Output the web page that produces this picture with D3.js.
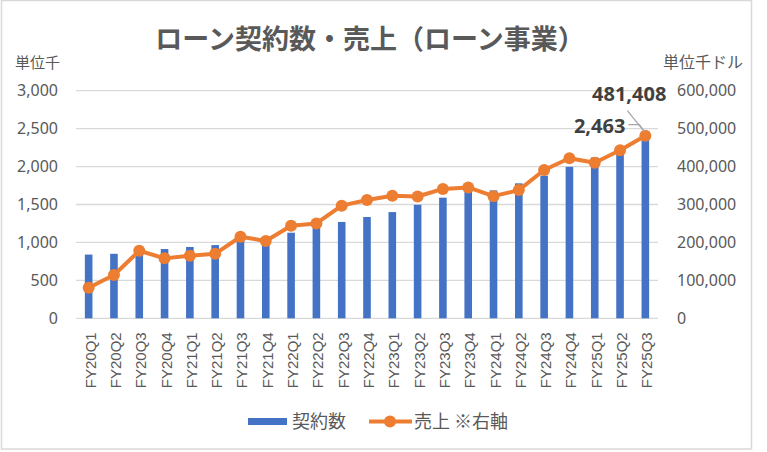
<!DOCTYPE html>
<html>
<head>
<meta charset="utf-8">
<script src="https://cdn.jsdelivr.net/npm/d3@7"></script>
<style>
  body { margin: 0; background: #fff; }
  text { fill: #595959; }
</style>
</head>
<body>
<svg width="767" height="452"></svg>
<script>
var kikan = ["FY20Q1","FY20Q2","FY20Q3","FY20Q4","FY21Q1","FY21Q2","FY21Q3","FY21Q4",
             "FY22Q1","FY22Q2","FY22Q3","FY22Q4","FY23Q1","FY23Q2","FY23Q3","FY23Q4",
             "FY24Q1","FY24Q2","FY24Q3","FY24Q4","FY25Q1","FY25Q2","FY25Q3"];
var keiyakusu = [840, 850, 880, 913, 940, 965, 1030, 1010, 1128, 1190, 1270, 1335,
                 1400, 1497, 1590, 1668, 1686, 1779, 1880, 1997, 2120, 2200, 2463];
var uriage = [80600, 114000, 178000, 158000, 165000, 170000, 215000, 204000,
              244000, 250000, 297000, 312000, 323000, 321000, 341000, 345000,
              322000, 338000, 391000, 422000, 410000, 443000, 481408];
var ticksEsquerda = [0, 500, 1000, 1500, 2000, 2500, 3000];
var ticksDireita = [0, 100000, 200000, 300000, 400000, 500000, 600000];

var svg = d3.select("svg");
var jp = "'Noto Sans CJK JP', 'Noto Sans', sans-serif";
var num = "'Noto Sans', 'Liberation Sans', sans-serif";

svg.append("rect")
    .attr("x", 1.5).attr("y", 0.5)
    .attr("width", 750).attr("height", 448.5)
    .attr("fill", "#fff")
    .attr("stroke", "#d9d9d9")
    .attr("stroke-width", 1.5);

var esq = 76, dir = 658, topo = 90.7, base = 318.3;

var x = d3.scaleBand()
    .domain(kikan)
    .range([esq, dir])
    .paddingInner(0.7)
    .paddingOuter(0.35);

var y = d3.scaleLinear().domain([0, 3000]).range([base, topo]);
var y2 = d3.scaleLinear().domain([0, 600000]).range([base, topo]);

// title
svg.append("text")
    .attr("x", 370)
    .attr("y", 49)
    .attr("text-anchor", "middle")
    .attr("font-family", jp)
    .attr("font-size", "27px")
    .attr("font-weight", "bold")
    .text("ローン契約数・売上（ローン事業）");

svg.append("text")
    .attr("x", 15).attr("y", 68)
    .attr("font-family", jp).attr("font-size", "15px")
    .text("単位千");

svg.append("text")
    .attr("x", 663).attr("y", 68)
    .attr("font-family", jp).attr("font-size", "16px")
    .text("単位千ドル");

// gridlines
svg.append("g")
    .selectAll("line")
    .data(ticksEsquerda)
    .enter()
    .append("line")
    .attr("x1", esq).attr("x2", dir)
    .attr("y1", function (d) { return y(d); })
    .attr("y2", function (d) { return y(d); })
    .attr("stroke", "#d9d9d9")
    .attr("stroke-width", 1.3);

var eixoE = svg.append("g")
    .attr("transform", "translate(" + (esq - 18) + ",0)")
    .call(d3.axisLeft(y).tickValues(ticksEsquerda).tickSize(0).tickPadding(0).tickFormat(d3.format(",")));
eixoE.select(".domain").remove();
eixoE.selectAll("text")
    .attr("font-family", num)
    .attr("font-size", "16px")
    .attr("fill", "#595959");

var eixoD = svg.append("g")
    .attr("transform", "translate(" + (dir + 19) + ",0)")
    .call(d3.axisRight(y2).tickValues(ticksDireita).tickSize(0).tickPadding(0).tickFormat(d3.format(",")));
eixoD.select(".domain").remove();
eixoD.selectAll("text")
    .attr("font-family", num)
    .attr("font-size", "16px")
    .attr("fill", "#595959");

var eixoX = svg.append("g")
    .attr("transform", "translate(0," + base + ")")
    .call(d3.axisBottom(x).tickSize(0).tickPadding(0));
eixoX.select(".domain").remove();
eixoX.selectAll("text")
    .attr("font-family", "'Liberation Sans', Arial, sans-serif")
    .attr("font-size", "15px")
    .attr("fill", "#595959")
    .attr("y", 0)
    .attr("dy", "0")
    .attr("transform", "translate(7,14)rotate(-90)")
    .style("text-anchor", "end");

// bars
svg.selectAll(".bar")
    .data(keiyakusu)
    .enter()
    .append("rect")
    .attr("class", "bar")
    .attr("x", function (d, i) { return x(kikan[i]); })
    .attr("y", function (d) { return y(d); })
    .attr("width", x.bandwidth())
    .attr("height", function (d) { return base - y(d); })
    .attr("fill", "#4472c4");

// line
var linha = d3.line()
    .x(function (d, i) { return x(kikan[i]) + x.bandwidth() / 2; })
    .y(function (d) { return y2(d); });

svg.append("path")
    .datum(uriage)
    .attr("d", linha)
    .attr("fill", "none")
    .attr("stroke", "#ed7d31")
    .attr("stroke-width", 4)
    .attr("stroke-linejoin", "round");

svg.selectAll(".ponto")
    .data(uriage)
    .enter()
    .append("circle")
    .attr("class", "ponto")
    .attr("cx", function (d, i) { return x(kikan[i]) + x.bandwidth() / 2; })
    .attr("cy", function (d) { return y2(d); })
    .attr("r", 6)
    .attr("fill", "#ed7d31");

// data labels for the last quarter
var n = kikan.length - 1;
var px = x(kikan[n]) + x.bandwidth() / 2;
var pyLinha = y2(uriage[n]);

svg.append("line")
    .attr("x1", px - 18).attr("y1", pyLinha - 25)
    .attr("x2", px - 1).attr("y2", pyLinha - 4)
    .attr("stroke", "#a6a6a6").attr("stroke-width", 1.3);
svg.append("polyline")
    .attr("points", (px - 17) + "," + (pyLinha - 11) + " " + (px - 6) + "," + (pyLinha - 11) + " " + (px - 1) + "," + (pyLinha - 4))
    .attr("fill", "none")
    .attr("stroke", "#a6a6a6").attr("stroke-width", 1.3);

svg.append("text")
    .attr("x", px + 21).attr("y", pyLinha - 35)
    .attr("text-anchor", "end")
    .attr("font-family", num).attr("font-size", "20px").attr("font-weight", "bold")
    .style("fill", "#404040")
    .text(d3.format(",")(uriage[n]));

svg.append("text")
    .attr("x", px - 20).attr("y", pyLinha - 3)
    .attr("text-anchor", "end")
    .attr("font-family", num).attr("font-size", "20px").attr("font-weight", "bold")
    .style("fill", "#404040")
    .text(d3.format(",")(keiyakusu[n]));

// legend
var leg = svg.append("g");
leg.append("rect")
    .attr("x", 248).attr("y", 418)
    .attr("width", 39).attr("height", 7)
    .attr("fill", "#4472c4");
leg.append("text")
    .attr("x", 292).attr("y", 428)
    .attr("font-family", jp).attr("font-size", "18px")
    .text("契約数");
leg.append("line")
    .attr("x1", 369).attr("x2", 412)
    .attr("y1", 421.5).attr("y2", 421.5)
    .attr("stroke", "#ed7d31").attr("stroke-width", 4);
leg.append("circle")
    .attr("cx", 390).attr("cy", 421.5).attr("r", 6)
    .attr("fill", "#ed7d31");
leg.append("text")
    .attr("x", 414).attr("y", 428)
    .attr("font-family", jp).attr("font-size", "18px")
    .text("売上 ※右軸");
</script>
</body>
</html>
